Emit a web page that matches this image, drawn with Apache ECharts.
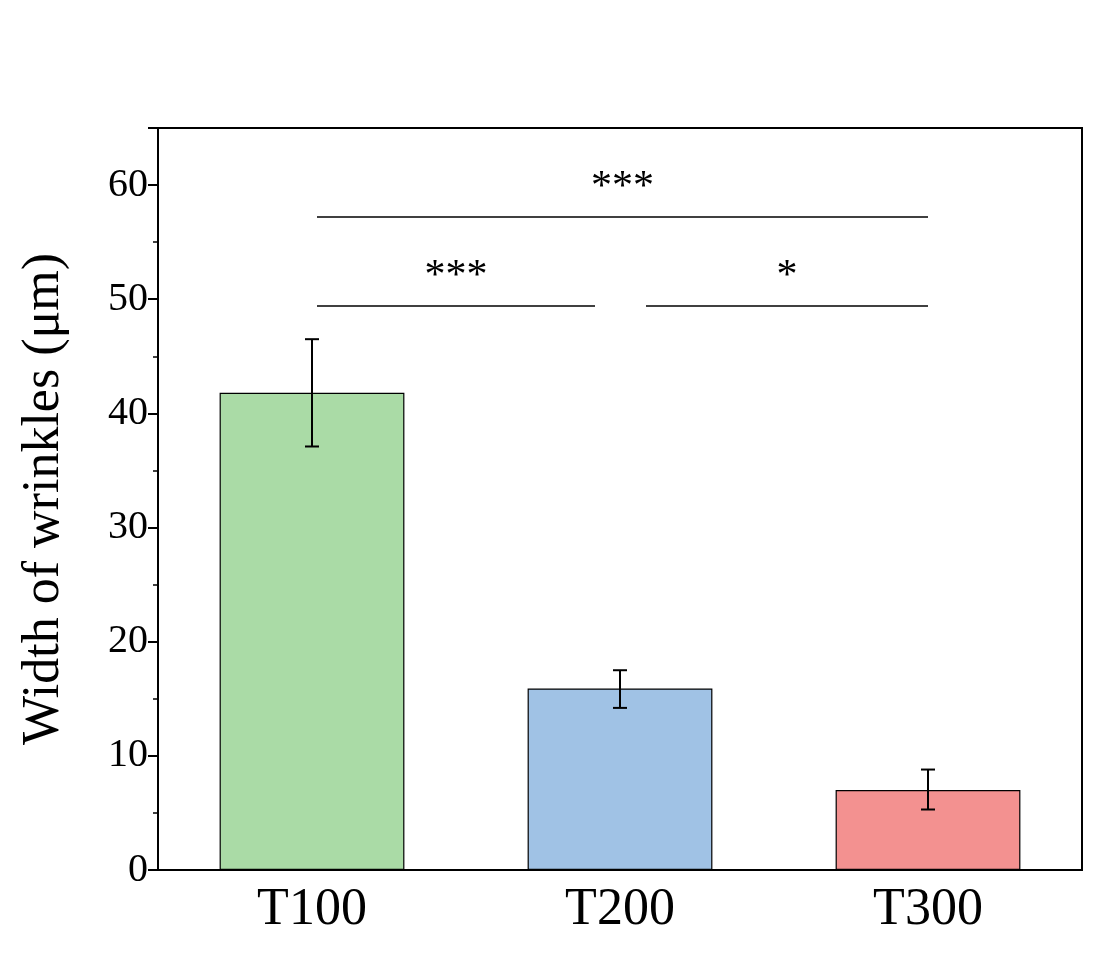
<!DOCTYPE html>
<html>
<head>
<meta charset="utf-8">
<script src="https://cdn.jsdelivr.net/npm/echarts@6/dist/echarts.min.js"></script>
<style>html,body{margin:0;padding:0;background:#fff}#chart{width:1103px;height:976px}</style>
</head>
<body>
<div id="chart"></div>
<script type="text/javascript">
var categories = ['T100', 'T200', 'T300'];
var means = [41.8, 15.9, 7.0];
var errLow = [37.1, 14.2, 5.3];
var errHigh = [46.5, 17.5, 8.8];
var barColors = ['#aadba6', '#a0c2e5', '#f39190'];
// [fromIndex, toIndex, y, label]
var sigLines = [[0, 2, 57.2, '***'], [0, 1, 49.4, '***'], [1, 2, 49.4, '*']];

var font = 'Liberation Serif';
var chart = echarts.init(document.getElementById('chart'));

var option = {
    animation: false,
    grid: { left: 158, right: 21, top: 128, bottom: 106, show: true, borderColor: '#000', borderWidth: 2 },
    xAxis: {
        type: 'category', data: categories,
        axisLine: { lineStyle: { color: '#000', width: 2 } },
        axisTick: { alignWithLabel: true, length: 10, lineStyle: { width: 2 } },
        axisLabel: { fontFamily: font, fontSize: 52, color: '#000', margin: 14 }
    },
    yAxis: {
        type: 'value', min: 0, max: 65, interval: 10,
        name: 'Width of wrinkles (\u03bcm)', nameLocation: 'middle', nameGap: 88,
        nameTextStyle: { fontFamily: font, fontSize: 52, color: '#000' },
        axisLine: { show: true, lineStyle: { color: '#000', width: 2 } },
        axisTick: { show: true, length: 10, lineStyle: { width: 2 } },
        minorTick: { show: true, splitNumber: 2, length: 5, lineStyle: { color: '#000', width: 1.5 } },
        splitLine: { show: false },
        axisLabel: { fontFamily: font, fontSize: 40, color: '#000', margin: 10,
            formatter: function (v) { return v > 60 ? '' : v; } }
    },
    series: [
        {
            type: 'bar', barWidth: '60%',
            data: means.map(function (v, i) {
                return { value: v, itemStyle: { color: barColors[i], borderColor: '#000', borderWidth: 1.2 } };
            })
        },
        {
            type: 'custom', z: 10,
            data: categories.map(function (c, i) { return [i, errLow[i], errHigh[i]]; }),
            renderItem: function (params, api) {
                var lo = api.coord([api.value(0), api.value(1)]);
                var hi = api.coord([api.value(0), api.value(2)]);
                var w = 7, st = { stroke: '#000', lineWidth: 2 };
                return { type: 'group', children: [
                    { type: 'line', shape: { x1: lo[0], y1: lo[1], x2: hi[0], y2: hi[1] }, style: st },
                    { type: 'line', shape: { x1: lo[0] - w, y1: lo[1], x2: lo[0] + w, y2: lo[1] }, style: st },
                    { type: 'line', shape: { x1: hi[0] - w, y1: hi[1], x2: hi[0] + w, y2: hi[1] }, style: st }
                ] };
            }
        },
        {
            type: 'custom', z: 10,
            data: sigLines,
            renderItem: function (params, api) {
                var a = api.coord([api.value(0), api.value(2)]);
                var b = api.coord([api.value(1), api.value(2)]);
                var d = sigLines[params.dataIndex];
                var x1 = a[0] + 5, x2 = b[0];
                if (d[1] - d[0] === 1) {
                    if (d[0] === 0) { x2 = b[0] - 25; } else { x1 = a[0] + 26; }
                }
                return { type: 'group', children: [
                    { type: 'line', shape: { x1: x1, y1: a[1], x2: x2, y2: a[1] }, style: { stroke: '#000', lineWidth: 1.5 } },
                    { type: 'text', x: (x1 + x2) / 2, y: a[1] - 8,
                      style: { text: d[3], font: '42px "Liberation Serif"', fill: '#000', align: 'center', verticalAlign: 'bottom' } }
                ] };
            }
        }
    ]
};

chart.setOption(option);
</script>
</body>
</html>
